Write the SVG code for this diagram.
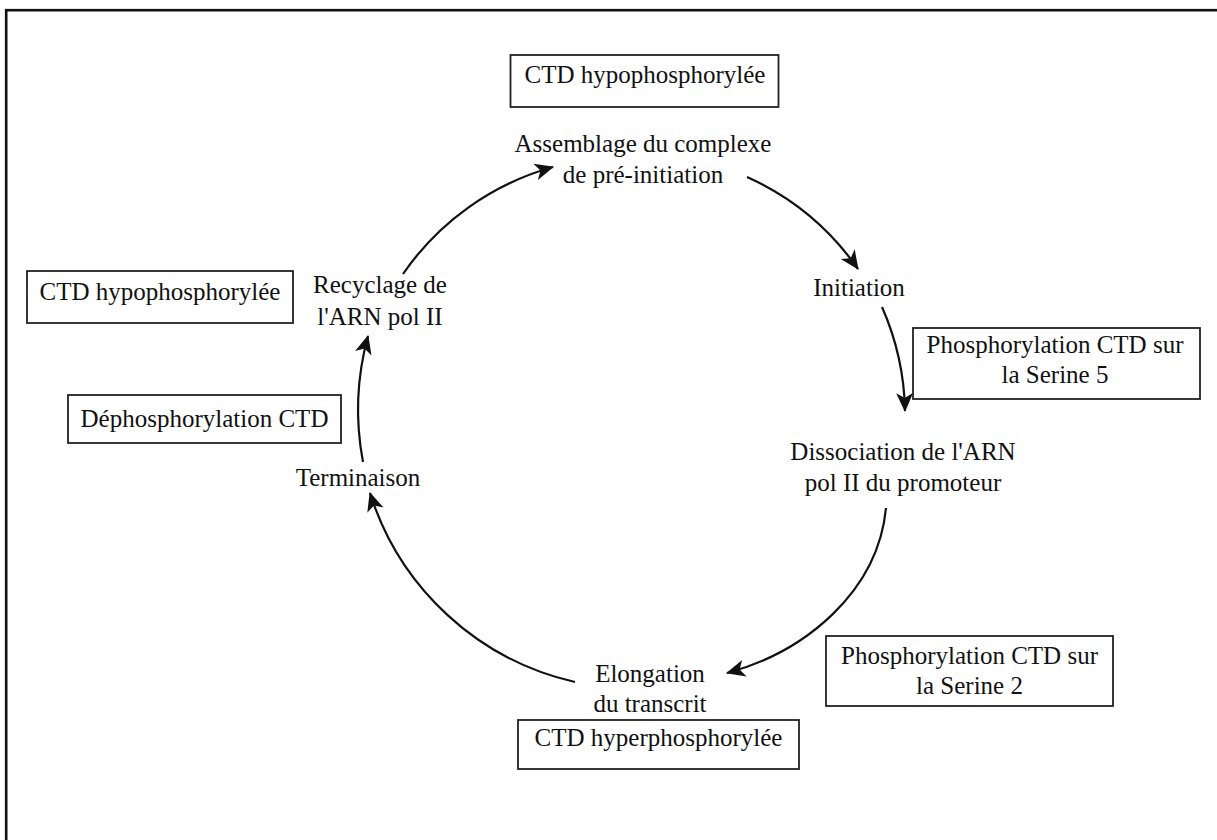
<svg xmlns="http://www.w3.org/2000/svg" width="1217" height="840" viewBox="0 0 1217 840">
<defs>
<style>
text{font-family:"Liberation Serif","Times New Roman",serif;font-size:25px;fill:#111;text-anchor:middle}
.box{fill:#fff;stroke:#222;stroke-width:1.8}
.arc{fill:none;stroke:#111;stroke-width:2.2}
</style>
<marker id="ah" markerUnits="userSpaceOnUse" markerWidth="24" markerHeight="20" viewBox="-20 -10 22 20" refX="0" refY="0" orient="auto">
<path d="M1,0 L-18,-8.5 L-13,0 L-18,8.5 Z" fill="#111"/>
</marker>
</defs>
<rect x="0" y="0" width="1217" height="840" fill="#fff"/>
<rect x="6.2" y="10.2" width="1300" height="900" fill="none" stroke="#111" stroke-width="2.6"/>

<g id="connectors">
<path class="arc" d="M403,274 A270,270 0 0 1 553,167" marker-end="url(#ah)"/>
<path class="arc" d="M747,177 A270,270 0 0 1 858,269" marker-end="url(#ah)"/>
<path class="arc" d="M882,307 A270,270 0 0 1 905,411" marker-end="url(#ah)"/>
<path class="arc" d="M886,508 C878,592 805,652 727,673" marker-end="url(#ah)"/>
<path class="arc" d="M575,682 A280,280 0 0 1 370,493" marker-end="url(#ah)"/>
<path class="arc" d="M363,462 A280,280 0 0 1 368,336" marker-end="url(#ah)"/>
</g>

<g id="box-top"><rect class="box" x="510.5" y="55" width="268" height="52"/><text x="645" y="83">CTD hypophosphorylée</text></g>
<g id="assemblage"><text x="643" y="152">Assemblage du complexe</text><text x="643" y="183">de pré-initiation</text></g>
<g id="initiation"><text x="859" y="296">Initiation</text></g>
<g id="box-serine5"><rect class="box" x="913" y="328" width="287" height="71"/><text x="1055" y="353">Phosphorylation CTD sur</text><text x="1055" y="383">la Serine 5</text></g>
<g id="dissociation"><text x="903" y="460">Dissociation de l'ARN</text><text x="903" y="491">pol II du promoteur</text></g>
<g id="box-serine2"><rect class="box" x="826" y="636" width="287" height="70"/><text x="969.5" y="664">Phosphorylation CTD sur</text><text x="969.5" y="694">la Serine 2</text></g>
<g id="elongation"><text x="650" y="682">Elongation</text><text x="650" y="712">du transcrit</text></g>
<g id="box-bottom"><rect class="box" x="518" y="720" width="281" height="49"/><text x="658.5" y="746">CTD hyperphosphorylée</text></g>
<g id="terminaison"><text x="358" y="486">Terminaison</text></g>
<g id="box-dephos"><rect class="box" x="68" y="395" width="273" height="48"/><text x="204.5" y="427">Déphosphorylation CTD</text></g>
<g id="box-left"><rect class="box" x="27" y="271" width="266" height="52"/><text x="160" y="300">CTD hypophosphorylée</text></g>
<g id="recyclage"><text x="380" y="293">Recyclage de</text><text x="380" y="325">l'ARN pol II</text></g>
</svg>
